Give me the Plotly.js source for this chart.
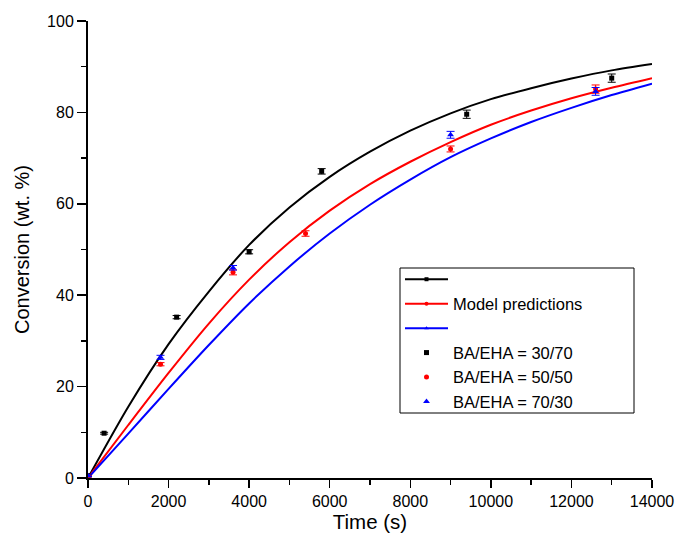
<!DOCTYPE html>
<html>
<head>
<meta charset="utf-8">
<script src="https://cdn.plot.ly/plotly-3.0.1.min.js"></script>
<style>html,body{margin:0;padding:0;background:#fff;}#chart{width:677px;height:542px;}</style>
</head>
<body>
<div id="chart"></div>
<script>
// Model curves (time grid in s, conversion in wt.%)
const modelTime = [0,1000,2000,3000,4000,5000,6000,7000,8000,9000,10000,11000,12000,13000,14000];
const model3070 = [0,15.6,29.3,40.8,51.0,59.2,65.9,71.4,76.0,79.8,82.9,85.3,87.4,89.2,90.6];
const model5050 = [0,11.6,23.0,33.8,43.4,51.6,58.5,64.3,69.2,73.5,77.3,80.4,83.1,85.4,87.5];
const model7030 = [0,9.7,19.5,29.1,38.2,46.3,53.5,59.8,65.3,70.2,74.3,77.9,81.0,83.8,86.3];

// Experimental data
const t3070 = [0,400,2200,4000,5800,9400,13000];
const y3070 = [0.5,9.8,35.2,49.5,67.1,79.6,87.5];
const e3070 = [0.2,0.2,0.35,0.45,0.6,0.9,0.9];

const t5050 = [0,1800,3600,5400,9000,12600];
const y5050 = [0.4,24.9,45.0,53.5,72.0,85.1];
const e5050 = [0.2,0.35,0.55,0.6,0.65,0.9];

const t7030 = [0,1800,3600,9000,12600];
const y7030 = [0.5,26.4,46.0,75.1,84.6];
const e7030 = [0.2,0.45,0.5,0.75,0.85];

const xTicks = [0,2000,4000,6000,8000,10000,12000,14000];
const yTicks = [0,20,40,60,80,100];

const names = ['BA/EHA = 30/70','BA/EHA = 50/50','BA/EHA = 70/30'];
const colors = ['#000000','#ff0000','#0000ff'];
const symbols = ['square','circle','triangle-up'];
const modelNames = [' ','Model predictions','  '];
const models = [model3070, model5050, model7030];
const ts = [t3070,t5050,t7030], ys=[y3070,y5050,y7030], es=[e3070,e5050,e7030];

const traces = [];
models.forEach((m,i)=>traces.push({
  x: modelTime, y: m, mode:'lines', type:'scatter', showlegend:false,
  line:{color:colors[i], width:2, shape:'spline', smoothing:0.8}, hoverinfo:'skip'
}));
models.forEach((m,i)=>traces.push({
  x:[null], y:[null], mode:'lines+markers', type:'scatter', name:modelNames[i],
  line:{color:colors[i], width:2},
  marker:{color:colors[i], symbol:symbols[i], size:4}
}));
ts.forEach((t,i)=>traces.push({
  x:t, y:ys[i], mode:'markers', type:'scatter', name:names[i],
  marker:{color:colors[i], symbol:symbols[i], size: i===2?6:5},
  error_y:{type:'data', array:es[i], visible:true, color:colors[i], thickness:1, width:4}
}));

const fontFam = 'Arial, "Liberation Sans", sans-serif';
// plot area in px: left 88, right 652, top 21, bottom 478
const px = v => (v-88)/564, py = v => (478-v)/457;
const layout = {
  width:677, height:542,
  margin:{l:88, r:25, t:21, b:64},
  paper_bgcolor:'#fff', plot_bgcolor:'#fff',
  font:{family:fontFam, color:'#000', size:16},
  showlegend:true,
  shapes:[{type:'rect', xref:'paper', yref:'paper', x0:px(400), x1:px(634), y0:py(413), y1:py(268),
           line:{color:'#000', width:1}, fillcolor:'#fff', layer:'above'}],
  legend:{
    x:px(400), y:py(262), xanchor:'left', yanchor:'top',
    bgcolor:'rgba(0,0,0,0)', borderwidth:0,
    font:{family:fontFam, size:16.5, color:'#000'},
    tracegroupgap:0, itemwidth:43
  },
  xaxis:{
    range:[0,14000], tickvals:xTicks, ticktext:xTicks.map(String),
    ticks:'outside', ticklen:8, tickwidth:1.5, tickcolor:'#000',
    minor:{dtick:1000, ticks:'outside', ticklen:5, tickwidth:1.5, tickcolor:'#000'},
    showline:true, linecolor:'#000', linewidth:2, showgrid:false, zeroline:false,
    tickfont:{size:16},
    title:{text:'Time (s)', font:{size:20.5}, standoff:5}
  },
  yaxis:{
    range:[0,100], tickvals:yTicks, ticktext:yTicks.map(String),
    ticks:'outside', ticklen:9, tickwidth:1.5, tickcolor:'#000',
    minor:{dtick:10, ticks:'outside', ticklen:5, tickwidth:1.5, tickcolor:'#000'},
    showline:true, linecolor:'#000', linewidth:2, showgrid:false, zeroline:false,
    tickfont:{size:16},
    title:{text:'Conversion (wt. %)', font:{size:20}, standoff:12}
  }
};
Plotly.newPlot('chart', traces, layout, {displayModeBar:false, staticPlot:true});
</script>
</body>
</html>
